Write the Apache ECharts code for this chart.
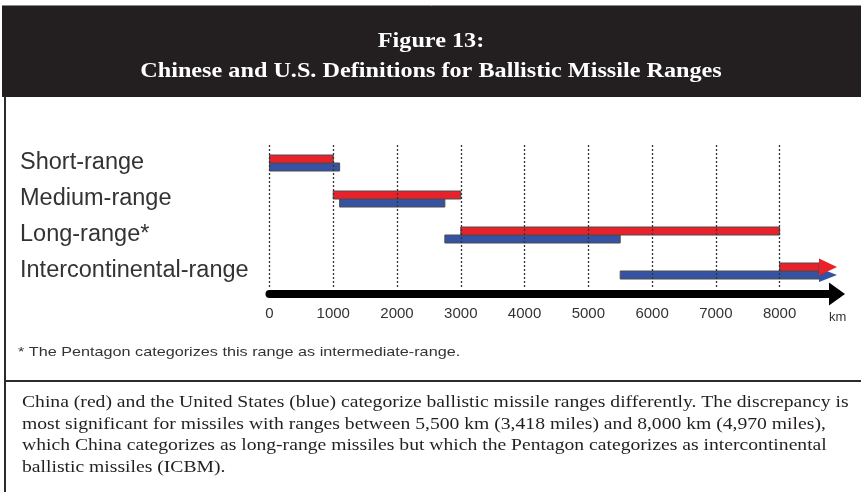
<!DOCTYPE html>
<html>
<head>
<meta charset="utf-8">
<script src="https://cdn.jsdelivr.net/npm/echarts@6/dist/echarts.min.js"></script>
<style>
  html, body { margin: 0; padding: 0; background: #fff; }
  #chart { width: 861px; height: 492px; }
</style>
</head>
<body>
<div id="chart"></div>
<script>
const categories = ['Short-range', 'Medium-range', 'Long-range*', 'Intercontinental-range']

// ranges in km, China in red, United States in blue
const chinaStart = [0, 1000, 3000, 8000]
const chinaEnd = [1000, 3000, 8000, 8900]
const usStart = [0, 1100, 2750, 5500]
const usEnd = [1100, 2750, 5500, 8900]
// the last range has no upper bound, drawn as an arrow
const openEnded = [0, 0, 0, 1]

const tickValues = [0, 1000, 2000, 3000, 4000, 5000, 6000, 7000, 8000]

const titleText = 'Figure 13:\nChinese and U.S. Definitions for Ballistic Missile Ranges'
const footnote = '* The Pentagon categorizes this range as intermediate-range.'
const caption = [
  'China (red) and the United States (blue) categorize ballistic missile ranges differently. The discrepancy is',
  'most significant for missiles with ranges between 5,500 km (3,418 miles) and 8,000 km (4,970 miles),',
  'which China categorizes as long-range missiles but which the Pentagon categorizes as intercontinental',
  'ballistic missiles (ICBM).'
]

const SANS = '"Liberation Sans", Arial, sans-serif'
const SERIF = '"Liberation Serif", "Times New Roman", serif'
const BAR_H = 8

const makeData = (starts, ends) => categories.map((c, i) => [i, starts[i], ends[i], openEnded[i]])

// upper = true draws the bar above the band centre (China), else below (US)
const rangeRenderer = (upper, color, headHalf) => (params, api) => {
  const cat = api.value(0)
  const p0 = api.coord([api.value(1), cat])
  const p1 = api.coord([api.value(2), cat])
  const y = upper ? p0[1] - BAR_H : p0[1]
  const cy = y + BAR_H / 2
  const style = { fill: color, stroke: '#4d4d4d', lineWidth: 1 }
  if (!api.value(3)) {
    return { type: 'rect', shape: { x: p0[0], y: y, width: p1[0] - p0[0], height: BAR_H }, style: style }
  }
  const headLen = 18
  return {
    type: 'group',
    children: [
      { type: 'rect', shape: { x: p0[0], y: y, width: p1[0] - headLen - p0[0], height: BAR_H }, style: style },
      {
        type: 'polygon',
        shape: { points: [[p1[0] - headLen, cy - headHalf], [p1[0], cy], [p1[0] - headLen, cy + headHalf]] },
        style: { fill: color }
      }
    ]
  }
}

const chart = echarts.init(document.getElementById('chart'))

chart.setOption({
  animation: false,
  backgroundColor: '#fff',
  grid: { left: 269.5, right: 24, top: 145, height: 144 },
  xAxis: {
    type: 'value',
    min: 0,
    max: 8900,
    interval: 1000,
    offset: 5,
    splitLine: { show: false },
    axisTick: { show: false },
    axisLine: {
      show: true,
      lineStyle: { color: '#000', width: 8 },
      symbol: ['none', 'triangle'],
      symbolSize: [23, 16]
    },
    axisLabel: {
      margin: 12,
      fontSize: 15,
      fontFamily: SANS,
      color: '#333',
      formatter: v => (v % 1000 === 0 ? String(v) : '')
    }
  },
  yAxis: {
    type: 'category',
    data: categories,
    inverse: true,
    axisLine: { show: false },
    axisTick: { show: false },
    splitLine: { show: false },
    axisLabel: {
      align: 'left',
      margin: 249.5,
      fontSize: 23.5,
      fontFamily: SANS,
      color: '#333',
      padding: [0, 0, 7, 0]
    }
  },
  series: [
    {
      name: 'United States',
      type: 'custom',
      renderItem: rangeRenderer(false, '#3552a3', 7),
      encode: { x: [1, 2], y: 0 },
      data: makeData(usStart, usEnd),
      z: 2
    },
    {
      name: 'China',
      type: 'custom',
      renderItem: rangeRenderer(true, '#e8212a', 8.5),
      encode: { x: [1, 2], y: 0 },
      data: makeData(chinaStart, chinaEnd),
      z: 3,
      markLine: {
        silent: true,
        symbol: 'none',
        label: { show: false },
        lineStyle: { color: '#333', type: [2, 2], width: 1.3 },
        data: tickValues.map(v => ({ xAxis: v }))
      }
    }
  ],
  graphic: [
    { type: 'rect', z: -1, shape: { x: 2, y: 6, width: 859, height: 91 }, style: { fill: '#231f20' } },
    { type: 'line', z: -1, shape: { x1: 2, y1: 5.5, x2: 861, y2: 5.5 }, style: { stroke: '#8a8a8a', lineWidth: 1 } },
    { type: 'line', shape: { x1: 5, y1: 96, x2: 5, y2: 492 }, style: { stroke: '#2b2b2b', lineWidth: 2 } },
    { type: 'line', shape: { x1: 4, y1: 381, x2: 861, y2: 381 }, style: { stroke: '#2b2b2b', lineWidth: 2 } },
    {
      type: 'text', x: 431, y: 26, scaleX: 1.1,
      style: {
        text: titleText, font: 'bold 22px ' + SERIF, fill: '#fff',
        textAlign: 'center', textVerticalAlign: 'top', lineHeight: 30
      }
    },
    {
      type: 'text', left: 829, top: 311,
      style: { text: 'km', font: '13px ' + SANS, fill: '#333' }
    },
    {
      type: 'text', x: 18, y: 345, scaleX: 1.2,
      style: { text: footnote, font: '13.5px ' + SANS, fill: '#333' }
    },
    {
      type: 'text', x: 22, y: 392, scaleX: 1.19,
      style: { text: caption.join('\n'), font: '16.5px ' + SERIF, fill: '#231f20', lineHeight: 21.5 }
    }
  ]
})
</script>
</body>
</html>
